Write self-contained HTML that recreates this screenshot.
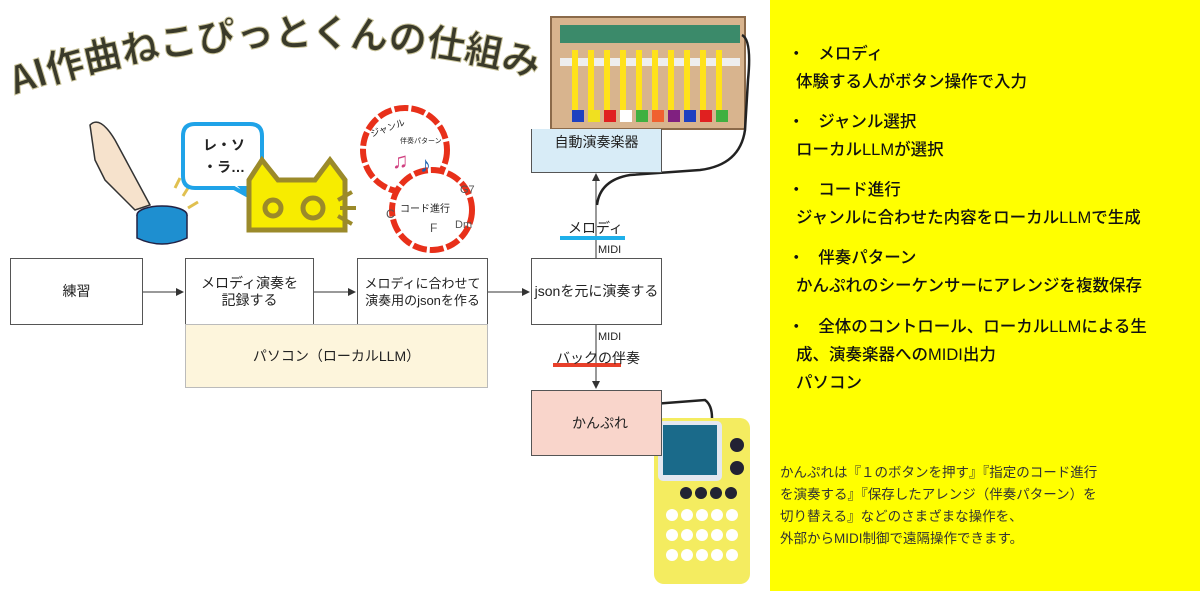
<!DOCTYPE html>
<html><head><meta charset="utf-8"><style>
body{margin:0;width:1200px;height:591px;background:#fff;position:relative;overflow:hidden;font-family:"Liberation Sans","Noto Sans CJK JP",sans-serif;}
.a{position:absolute}
.box{position:absolute;border:1px solid #555;box-sizing:border-box;display:flex;align-items:center;justify-content:center;text-align:center;font-size:14px;color:#222;line-height:17px}
.y{position:absolute;left:770px;top:0;width:430px;height:591px;background:#ffff00}
.t{position:absolute;font-size:16.5px;color:#111;white-space:nowrap;font-weight:500}
.s{font-size:13px;color:#222;white-space:nowrap;position:absolute}
</style></head><body>
<svg class="a" style="left:0;top:0" width="770" height="591">
<defs><marker id="ar" markerWidth="8" markerHeight="8" refX="7" refY="4" orient="auto"><path d="M0,0 L8,4 L0,8 z" fill="#333"/></marker></defs>
<path id="arc" d="M15,95 Q280,5 545,80" fill="none"/>
<text font-family="Noto Sans CJK JP,sans-serif" font-size="38" font-weight="bold" fill="#3a3a2a" stroke="#c9c39a" stroke-width="1"><textPath href="#arc">AI作曲ねこぴっとくんの仕組み</textPath></text>
<!-- finger -->
<path d="M90,125 Q100,115 115,140 L150,205 L135,210 Q120,195 105,180 L95,160 Z" fill="#f6e2cc" stroke="#333" stroke-width="1.5"/>
<ellipse cx="162" cy="215" rx="25" ry="9" fill="#1e8fd0" stroke="#224" stroke-width="1.5"/>
<path d="M137,215 L137,238 Q162,250 187,238 L187,215" fill="#1e8fd0" stroke="#224" stroke-width="1.5"/>
<path d="M175,188 l5,-10 M183,196 l5,-8 M188,208 l10,-6" stroke-width="3" stroke="#e0c050"/>
<!-- speech -->
<path d="M195,124 h55 q12,0 12,12 v40 q0,12 -12,12 h-8 l10,10 l-18,-10 h-39 q-12,0 -12,-12 v-40 q0,-12 12,-12z" fill="#fff" stroke="#1fa3e8" stroke-width="4"/>
<text x="203" y="150" font-size="14" font-weight="bold" fill="#222">レ・ソ</text>
<text x="203" y="172" font-size="14" font-weight="bold" fill="#222">・ラ…</text>
<!-- cat -->
<path d="M249,230 L249,180 L262,160 L278,180 L315,180 L330,160 L345,180 L345,230Z" fill="#f7ec00" stroke="#9b8a2a" stroke-width="5"/>
<circle cx="273" cy="208" r="8" fill="none" stroke="#9b8a2a" stroke-width="5"/>
<circle cx="313" cy="208" r="10" fill="none" stroke="#9b8a2a" stroke-width="5"/>
<path d="M338,200 l14,-8 M340,208 l16,0 M338,216 l14,8" stroke="#9b8a2a" stroke-width="4"/>
<!-- clouds -->
<circle cx="405" cy="150" r="42" fill="#fff" stroke="#e8301a" stroke-width="6" stroke-dasharray="14 3"/>
<circle cx="432" cy="210" r="40" fill="#fff" stroke="#e8301a" stroke-width="6" stroke-dasharray="14 3"/>
<text x="372" y="137" font-size="9" fill="#222" transform="rotate(-20 372 137)">ジャンル</text>
<text x="400" y="143" font-size="7" fill="#222">伴奏パターン</text>
<text x="392" y="168" font-size="22" fill="#d04080">♫</text><text x="420" y="172" font-size="22" fill="#1a5fb0">♪</text>
<text x="400" y="212" font-size="10" fill="#222">コード進行</text>
<text x="386" y="218" font-size="12" fill="#555">C</text><text x="430" y="232" font-size="12" fill="#555">F</text><text x="455" y="228" font-size="11" fill="#555">Dm</text><text x="460" y="193" font-size="11" fill="#555">G7</text>
<!-- connectors -->
<line x1="142" y1="292" x2="183" y2="292" stroke="#333" marker-end="url(#ar)"/>
<line x1="313" y1="292" x2="355" y2="292" stroke="#333" marker-end="url(#ar)"/>
<line x1="487" y1="292" x2="529" y2="292" stroke="#333" marker-end="url(#ar)"/>
<line x1="596" y1="258" x2="596" y2="174" stroke="#333" marker-end="url(#ar)"/>
<line x1="596" y1="324" x2="596" y2="388" stroke="#333" marker-end="url(#ar)"/>
<rect x="560" y="236" width="65" height="4" fill="#1fb0ea"/>
<rect x="553" y="363" width="68" height="4" fill="#e8402a"/>
<!-- xylophone photo -->
<rect x="551" y="17" width="194" height="112" fill="#d8b48e" stroke="#8b6a4a" stroke-width="2"/>
<rect x="560" y="25" width="180" height="18" fill="#3b8a6a"/>
<rect x="560" y="58" width="180" height="8" fill="#eee"/>
<g fill="#ffe21a"><rect x="572" y="50" width="6" height="60"/><rect x="588" y="50" width="6" height="60"/><rect x="604" y="50" width="6" height="60"/><rect x="620" y="50" width="6" height="60"/><rect x="636" y="50" width="6" height="60"/><rect x="652" y="50" width="6" height="60"/><rect x="668" y="50" width="6" height="60"/><rect x="684" y="50" width="6" height="60"/><rect x="700" y="50" width="6" height="60"/><rect x="716" y="50" width="6" height="60"/></g>
<g><rect x="572" y="110" width="12" height="12" fill="#1e40c0"/><rect x="588" y="110" width="12" height="12" fill="#f0e020"/><rect x="604" y="110" width="12" height="12" fill="#e02020"/><rect x="620" y="110" width="12" height="12" fill="#fff"/><rect x="636" y="110" width="12" height="12" fill="#40b040"/><rect x="652" y="110" width="12" height="12" fill="#f06030"/><rect x="668" y="110" width="12" height="12" fill="#802080"/><rect x="684" y="110" width="12" height="12" fill="#1e40c0"/><rect x="700" y="110" width="12" height="12" fill="#e02020"/><rect x="716" y="110" width="12" height="12" fill="#40b040"/></g>
<path d="M742,35 Q752,40 748,80 L745,130 Q740,165 700,170 L630,175 Q600,180 597,205" fill="none" stroke="#222" stroke-width="2.5"/>
<path d="M600,390 Q600,408 640,405 L705,400 Q712,405 712,418" fill="none" stroke="#222" stroke-width="2.5"/>
<!-- kampure -->
<rect x="654" y="418" width="96" height="166" rx="10" fill="#f4ec60"/>
<rect x="658" y="421" width="64" height="60" rx="5" fill="#e4e8f0"/>
<rect x="663" y="425" width="54" height="50" fill="#1a6a8a"/>
<circle cx="737" cy="445" r="7" fill="#223"/><circle cx="737" cy="468" r="7" fill="#223"/>
<g fill="#223"><circle cx="686" cy="493" r="6"/><circle cx="701" cy="493" r="6"/><circle cx="716" cy="493" r="6"/><circle cx="731" cy="493" r="6"/></g>
<g fill="#fff"><circle cx="672" cy="515" r="6"/><circle cx="687" cy="515" r="6"/><circle cx="702" cy="515" r="6"/><circle cx="717" cy="515" r="6"/><circle cx="732" cy="515" r="6"/>
<circle cx="672" cy="535" r="6"/><circle cx="687" cy="535" r="6"/><circle cx="702" cy="535" r="6"/><circle cx="717" cy="535" r="6"/><circle cx="732" cy="535" r="6"/>
<circle cx="672" cy="555" r="6"/><circle cx="687" cy="555" r="6"/><circle cx="702" cy="555" r="6"/><circle cx="717" cy="555" r="6"/><circle cx="732" cy="555" r="6"/></g>
</svg>
<div class="box" style="left:531px;top:129px;width:131px;height:44px;background:#d8ecf7;border-top:none;align-items:flex-start;padding-top:5px">自動演奏楽器</div>
<div class="box" style="left:10px;top:258px;width:133px;height:67px">練習</div>
<div class="box" style="left:185px;top:258px;width:129px;height:67px">メロディ演奏を<br>記録する</div>
<div class="box" style="left:357px;top:258px;width:131px;height:67px;font-size:13px">メロディに合わせて<br>演奏用のjsonを作る</div>
<div class="box" style="left:531px;top:258px;width:131px;height:67px">jsonを元に演奏する</div>
<div class="box" style="left:185px;top:324px;width:303px;height:64px;background:#fdf5dc;border-color:#bbb">パソコン（ローカルLLM）</div>
<div class="box" style="left:531px;top:390px;width:131px;height:66px;background:#f9d5cb;justify-content:flex-start;padding-left:40px">かんぷれ</div>
<div class="s" style="left:568px;top:218px;font-size:14px">メロディ</div>
<div class="s" style="left:598px;top:244px;font-size:11px">MIDI</div>
<div class="s" style="left:598px;top:331px;font-size:11px">MIDI</div>
<div class="s" style="left:556px;top:348px;font-size:14px">バックの伴奏</div>
<div class="y"></div>
<div class="t" style="left:788px;top:40px">・ &nbsp;&nbsp;メロディ</div>
<div class="t" style="left:796px;top:68px">体験する人がボタン操作で入力</div>
<div class="t" style="left:788px;top:108px">・ &nbsp;&nbsp;ジャンル選択</div>
<div class="t" style="left:796px;top:136px">ローカルLLMが選択</div>
<div class="t" style="left:788px;top:176px">・ &nbsp;&nbsp;コード進行</div>
<div class="t" style="left:796px;top:204px">ジャンルに合わせた内容をローカルLLMで生成</div>
<div class="t" style="left:788px;top:244px">・ &nbsp;&nbsp;伴奏パターン</div>
<div class="t" style="left:796px;top:272px">かんぷれのシーケンサーにアレンジを複数保存</div>
<div class="t" style="left:788px;top:313px">・ &nbsp;&nbsp;全体のコントロール、ローカルLLMによる生</div>
<div class="t" style="left:796px;top:341px">成、演奏楽器へのMIDI出力</div>
<div class="t" style="left:796px;top:369px">パソコン</div>
<div class="a" style="left:780px;top:462px;font-size:13.5px;line-height:22px;color:#333;white-space:nowrap">かんぷれは『１のボタンを押す』『指定のコード進行<br>を演奏する』『保存したアレンジ（伴奏パターン）を<br>切り替える』などのさまざまな操作を、<br>外部からMIDI制御で遠隔操作できます。</div>
</body></html>
